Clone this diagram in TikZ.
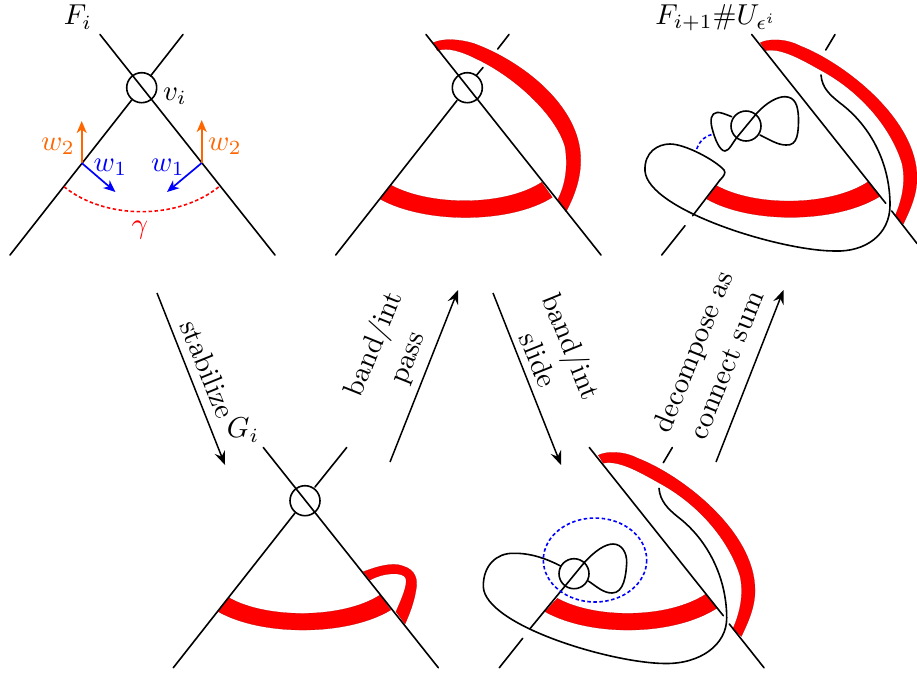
\documentclass[tikz,border=0pt]{standalone}
\usepackage{amssymb}
\usetikzlibrary{arrows.meta}
\definecolor{wtwo}{RGB}{255,102,0}
\tikzset{
  ln/.style={line width=1.6pt,line cap=round,line join=round},
  band/.style={fill=red,draw=black!30!red,line width=0.2pt},
  bigarrow/.style={line width=1.5pt,-{Stealth[length=14pt,width=11pt,inset=5pt]}},
  vec/.style={line width=1.7pt,-{Stealth[length=12pt,width=10pt,inset=3.5pt]}},
  lab/.style={font=\fontsize{10}{12.5}\selectfont,scale=2.88,inner sep=0pt,align=center},
  knotc/.style={ln,circle,draw,minimum size=30pt,inner sep=0pt},
  ddash/.style={line width=1.6pt,dash pattern=on 3.5pt off 2.5pt}
}
\begin{document}
\begin{tikzpicture}[x=1pt,y=-1pt]
\useasboundingbox (0,0) rectangle (917,673);
% ---------- panel 1
\draw[ln] (100,34.5) -- (275,255);
\draw[ln] (10,255) -- (131.7,100);
\draw[ln] (150.5,76) -- (183,34.5);
\node[knotc] (c1) at (141.7,87.7) {};
\draw[red,ddash] (64,186.7) .. controls (105,220) and (178,220) .. (219,186.7);
\coordinate (p1l) at (81.7,163);
\coordinate (p1r) at (201.7,163);
\coordinate (w2l) at (81.7,121);
\coordinate (w2r) at (201.7,120);
\coordinate (w1l) at (115.5,192);
\coordinate (w1r) at (167,192);
\draw[vec,wtwo] (p1l) -- (w2l);
\draw[vec,wtwo] (p1r) -- (w2r);
\draw[vec,blue] (p1l) -- (w1l);
\draw[vec,blue] (p1r) -- (w1r);
\node[lab] (Fi) at (78,17) {$F_i$};
\node[lab] (vi) at (175,96.5) {$v_i$};
\node[lab,text=wtwo] (l2a) at (58,146.5) {$w_2$};
\node[lab,text=wtwo] (l2b) at (225,146.5) {$w_2$};
\node[lab,text=blue] (l1a) at (110.5,167) {$w_1$};
\node[lab,text=blue] (l1b) at (168,167) {$w_1$};
\node[lab,text=red] (gam) at (140,230) {$\gamma$};
% ---------- panel 2
\fill[band] (380,199) .. controls (425,224) and (510,224) .. (552.3,197.3) -- (541.7,182.3) .. controls (505,206.4) and (430,206.4) .. (390.7,185) -- cycle;
\fill[band] (433.3,42.7) .. controls (442,38.5) and (457,38.5) .. (473.3,43.3) .. controls (520,60) and (580.7,105) .. (580.7,160) .. controls (580.7,178) and (575,195) .. (566,211.7) -- (557.5,200) .. controls (566,184) and (568,165) .. (565,146.7) .. controls (556,115) and (515,77) .. (476.7,59) .. controls (462,51.5) and (448,47) .. (437.3,50.7) -- cycle;
\draw[ln] (426,34.5) -- (601,255);
\draw[ln] (335.7,255) -- (457,100.5);
\draw[ln] (476.7,75) -- (483,67.5);
\draw[ln] (497.7,49) -- (509,34.5);
\node[knotc] (c2) at (467.3,87.7) {};
% ---------- panel 3
\fill[band] (706.7,199) .. controls (750,223.8) and (835,223.8) .. (879.3,196.7) -- (868.3,181.7) .. controls (830,206.8) and (755,206.8) .. (716.7,185.7) -- cycle;
\fill[band] (760.3,42.7) .. controls (768,38.7) and (785,38) .. (800.3,46) .. controls (842,62) and (917,118) .. (917,178) .. controls (917,194) and (911,208) .. (903.3,224) -- (895,216) .. controls (902,200) and (906,182) .. (902,163.3) .. controls (890,125) and (858,90) .. (820.3,70) .. controls (800,58.5) and (780,47.5) .. (765.3,50.7) -- cycle;
\draw[ln] (751.7,34.5) -- (885.7,203.3);
\draw[ln] (891.7,211) -- (917,243.5);
\draw[ln] (661.7,255) -- (685,225.7);
\draw[ln] (692.7,215.7) -- (720,180);
\draw[ln] (825.7,50) -- (835,34.5);
\node[knotc] (c3) at (746,126) {};
\draw[ln] (731.7,116.7) .. controls (725,114) and (720,112) .. (717,112.5) .. controls (711,113) and (710,120) .. (712,128) .. controls (715,140) and (720,151) .. (725,151) .. controls (729,151) and (733,142) .. (738,136) -- (756.7,113.3) .. controls (767,102) and (778,96.5) .. (785,96.7) .. controls (795,97) and (798,105) .. (798.5,118) .. controls (798.5,132) and (798,146) .. (786,145) .. controls (778,145) and (770,140) .. (760,135);
\draw[blue,ddash] (696.7,149) .. controls (700,140) and (706,135) .. (714,134.3);
\draw[ln] (821,75) .. controls (822,88) and (830,95) .. (840,103) .. controls (872,127) and (890,165) .. (890,205) .. controls (890,235) and (865,252) .. (835,251) .. controls (780,251) and (648,210) .. (645,171) .. controls (644,152) and (658,144) .. (670,144) .. controls (685,144) and (715,160) .. (724,170) .. controls (726,173) and (724,176) .. (720,180);
% ---------- panel 4
\fill[band] (218.3,611.7) .. controls (262,636.4) and (347,636.4) .. (390.7,610) -- (380,595) .. controls (343,619) and (266,619) .. (229,597.7) -- cycle;
\fill[band] (363.3,571.7) .. controls (378,566) and (393,562) .. (403,566) .. controls (416,570) and (418,580) .. (416,590) .. controls (414,602) and (410,613) .. (405,624) -- (396,611.7) .. controls (401,600) and (408,585) .. (405.7,578) .. controls (403,572) and (385,572) .. (370,580) -- cycle;
\draw[ln] (263.3,447.5) -- (438.3,667.7);
\draw[ln] (173.3,667.7) -- (295,513);
\draw[ln] (315,487) -- (346.7,447.5);
\node[knotc] (c4) at (305,500.7) {};
% ---------- panel 5
\fill[band] (545,611.7) .. controls (590,636.7) and (672,636.7) .. (716.7,608.3) -- (706,594) .. controls (668,619) and (595,619) .. (557.3,598.3) -- cycle;
\begin{scope}[shift={(-162,412.5)}]
\fill[band] (760.3,42.7) .. controls (768,38.7) and (785,38) .. (800.3,46) .. controls (842,62) and (917,118) .. (917,178) .. controls (917,194) and (911,208) .. (903.3,224) -- (895,216) .. controls (902,200) and (906,182) .. (902,163.3) .. controls (890,125) and (858,90) .. (820.3,70) .. controls (800,58.5) and (780,47.5) .. (765.3,50.7) -- cycle;
\end{scope}
\draw[ln] (589.3,447.5) -- (723.3,615.7);
\draw[ln] (729.3,624) -- (764,667.7);
\draw[ln] (499.3,667.7) -- (522.7,638.3);
\draw[ln] (530.3,628.3) -- (585,561.7);
\draw[ln] (663.3,462.7) -- (672.3,447.5);
\node[knotc] (c5) at (574,573.7) {};
\draw[ln] (585,561.7) .. controls (595,551) and (605,544) .. (613,544) .. controls (622,544) and (627,553) .. (626.7,563) .. controls (626,575) and (624,593) .. (612,593) .. controls (603,593) and (596,586) .. (588.3,581);
\draw[ln] (659,488.3) .. controls (660,501) and (668,509) .. (678,517) .. controls (708,540) and (726.7,578) .. (726.7,618) .. controls (726.7,645) and (700,664) .. (665,663.5) .. controls (610,663) and (485,625) .. (483.3,586.7) .. controls (483,565) and (497,553) .. (513.3,553.3) .. controls (530,553) and (545,558) .. (560.7,566);
\draw[blue,ddash] (595,560) ellipse (51.7 and 42);
% ---------- arrows
\coordinate (a1s) at (157,293); \coordinate (a1e) at (225,465);
\coordinate (a2s) at (390,462); \coordinate (a2e) at (458,290);
\coordinate (a3s) at (493,293); \coordinate (a3e) at (561,465);
\coordinate (a4s) at (716,462); \coordinate (a4e) at (783.5,290);
\draw[bigarrow] (a1s) -- (a1e);
\draw[bigarrow] (a2s) -- (a2e);
\draw[bigarrow] (a3s) -- (a3e);
\draw[bigarrow] (a4s) -- (a4e);
\node[lab,rotate=-68] (t1) at (208,369) {stabilize};
\node[lab] (Gi) at (243,430) {$G_i$};
\node[lab,rotate=68] (t2) at (391,351) {band/int\\pass};
\node[lab,rotate=-68] (t3) at (556,353) {band/int\\slide};
\node[lab,rotate=68] (t4) at (709,358) {decompose as\\connect sum};
\node[lab] (t5) at (716,17.5) {$F_{i+1}\#U_{\epsilon^i}$};
\end{tikzpicture}
\end{document}
